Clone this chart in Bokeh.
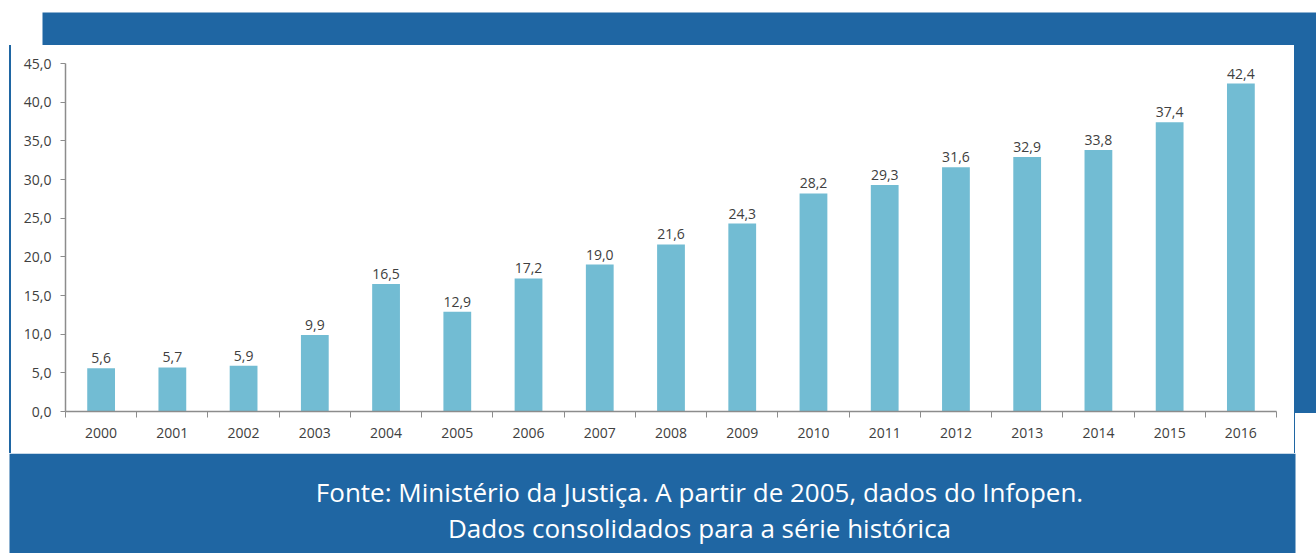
from bokeh.plotting import figure
from bokeh.layouts import column, row
from bokeh.models import ColumnDataSource, Range1d, FixedTicker, Label, Div
from bokeh.core.properties import value
from bokeh.embed import file_html
from bokeh.resources import INLINE

# ---- data ----
years = ["2000", "2001", "2002", "2003", "2004", "2005", "2006", "2007", "2008",
         "2009", "2010", "2011", "2012", "2013", "2014", "2015", "2016"]
rates = [5.6, 5.7, 5.9, 9.9, 16.5, 12.9, 17.2, 19.0, 21.6,
         24.3, 28.2, 29.3, 31.6, 32.9, 33.8, 37.4, 42.4]
y_ticks = [0, 5, 10, 15, 20, 25, 30, 35, 40, 45]
y_tick_labels = ["0,0", "5,0", "10,0", "15,0", "20,0", "25,0", "30,0", "35,0", "40,0", "45,0"]
footer_lines = ["Fonte: Ministério da Justiça. A partir de 2005, dados do Infopen.",
                "Dados consolidados para a série histórica"]

BLUE = "#1f66a3"
BAR = "#72bcd3"
TXT = "#404040"
AXIS = "#8c8c8c"
FONT = "Open Sans"


def panel(w, h):
    """A plain drawing panel whose frame fills the whole canvas (pixel coords, y down)."""
    f = figure(width=w, height=h, output_backend="svg", toolbar_location=None,
               x_range=Range1d(0, w), y_range=Range1d(h, 0),
               x_axis_location=None, y_axis_location=None,
               min_border=0)
    f.outline_line_color = None
    f.xgrid.visible = False
    f.ygrid.visible = False
    f.background_fill_color = "white"
    f.border_fill_color = "white"
    return f


# top band
top = panel(1316, 45)
top.quad(left=[42], right=[1316], top=[12], bottom=[45], fill_color=BLUE, line_color=None)

# side strips (plain HTML blocks, so they are not frame-aligned with the chart)
left = Div(text=f'<div style="margin-left:9px;width:2px;height:408px;background:{BLUE}"></div>',
           width=11, height=408, margin=0, styles={"padding": "0"})
right = Div(text=(f'<div style="width:22px;height:368px;background:{BLUE}"></div>'
                  f'<div style="width:1px;height:40px;background:{BLUE}"></div>'),
            width=22, height=408, margin=0, styles={"padding": "0"})

# bottom band with source text
bottom = panel(1316, 100)
bottom.quad(left=[9], right=[1295], top=[0], bottom=[100], fill_color=BLUE, line_color=None)
for line, yy in zip(footer_lines, [38, 74]):
    bottom.add_layout(Label(x=699, y=yy, text=line, text_align="center",
                            text_baseline="alphabetic", text_color="white",
                            text_font=FONT, text_font_size="26px"))

# ---- main chart ----
idx = list(range(len(years)))
src = ColumnDataSource(dict(
    x=idx,
    rate=rates,
    label=[f"{v:.1f}".replace(".", ",") for v in rates],
))

p = figure(width=1283, height=408, output_backend="svg", toolbar_location=None,
           x_range=Range1d(-0.5, len(years) - 0.5), y_range=Range1d(0, 45),
           min_border_left=54, min_border_right=18, min_border_top=18,
           min_border_bottom=42)
p.outline_line_color = None
p.background_fill_color = "white"
p.border_fill_color = "white"
p.xgrid.visible = False
p.ygrid.visible = False

p.vbar(x="x", top="rate", width=0.39, source=src, fill_color=BAR, line_color=None)
p.text(x="x", y="rate", text="label", source=src, text_align="center",
       text_baseline="alphabetic", y_offset=-10, text_font=value(FONT),
       text_font_size="14px", text_color=TXT)

xa = p.xaxis[0]
xa.ticker = FixedTicker(ticks=idx, minor_ticks=[i - 0.5 for i in range(len(years) + 1)])
xa.major_label_overrides = {i: y for i, y in zip(idx, years)}
xa.major_tick_line_color = None
xa.major_tick_in = 0
xa.major_tick_out = 0
xa.minor_tick_line_color = AXIS
xa.minor_tick_in = 0
xa.minor_tick_out = 6
xa.axis_line_color = AXIS
xa.axis_line_width = 1.5
xa.major_label_standoff = 10
xa.major_label_text_font = FONT
xa.major_label_text_font_size = "14px"
xa.major_label_text_color = TXT

ya = p.yaxis[0]
ya.ticker = FixedTicker(ticks=y_ticks)
ya.major_label_overrides = dict(zip(y_ticks, y_tick_labels))
ya.minor_tick_line_color = None
ya.major_tick_line_color = AXIS
ya.major_tick_in = 0
ya.major_tick_out = 5
ya.axis_line_color = AXIS
ya.axis_line_width = 1.5
ya.major_label_standoff = 9
ya.major_label_text_font = FONT
ya.major_label_text_font_size = "14px"
ya.major_label_text_color = TXT

layout = column(top, row(left, p, right), bottom)

open("out.html", "w").write(file_html(layout, INLINE))
